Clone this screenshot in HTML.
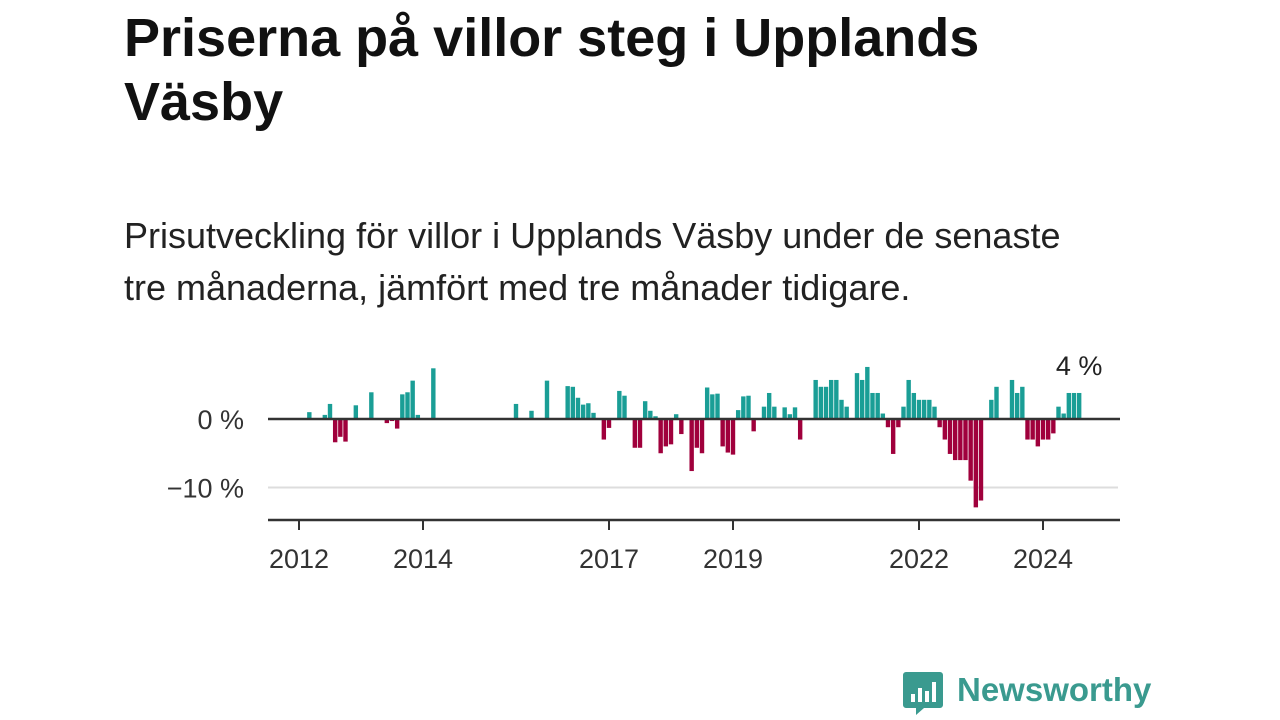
<!DOCTYPE html>
<html><head><meta charset="utf-8"><style>
body{margin:0;width:1280px;height:720px;background:#fff;overflow:hidden;font-family:"Liberation Sans",sans-serif;position:relative}
#title{position:absolute;left:124px;top:6px;font-size:54px;font-weight:bold;color:#111;line-height:64px;margin:0;width:930px}
#sub{position:absolute;left:124px;top:210px;font-size:36px;color:#222;line-height:52px;width:960px}
svg{position:absolute;left:0;top:0}
#logo{position:absolute;left:902px;top:670px;height:46px}
</style></head><body>
<h1 id="title">Priserna på villor steg i Upplands Väsby</h1>
<div id="sub">Prisutveckling för villor i Upplands Väsby under de senaste tre månaderna, jämfört med tre månader tidigare.</div>
<svg id="chart" width="1280" height="720"></svg>
<div id="logo">
<svg width="42" height="46" style="left:0;top:0"><path d="M4 2h34a3 3 0 0 1 3 3v30a3 3 0 0 1-3 3H22l-8 7v-7H4a3 3 0 0 1-3-3V5a3 3 0 0 1 3-3z" fill="#3a9a8f"/><rect x="9" y="24" width="4" height="8" fill="#fff"/><rect x="16" y="18" width="4" height="14" fill="#fff"/><rect x="23" y="21" width="4" height="11" fill="#fff"/><rect x="30" y="12" width="4" height="20" fill="#fff"/></svg>
<span style="position:absolute;left:55px;top:1px;font-size:33px;font-weight:bold;color:#3a9a8f;white-space:nowrap">Newsworthy</span>
</div>
<script>
const months=[2,5,6,7,8,9,11,14,17,18,19,20,21,22,23,26,42,45,48,52,53,54,55,56,57,59,60,62,63,65,66,67,68,69,70,71,72,73,74,76,77,78,79,80,81,82,83,84,85,86,87,88,90,91,92,94,95,96,97,100,101,102,103,104,105,106,108,109,110,111,112,113,114,115,116,117,118,119,120,121,122,123,124,125,126,127,128,129,130,131,132,134,135,138,139,140,141,142,143,144,145,146,147,148,149,150,151];
const values=[1,0.6,2.2,-3.4,-2.6,-3.3,2,3.9,-0.6,-0.3,-1.4,3.6,3.9,5.6,0.6,7.4,2.2,1.2,5.6,4.8,4.7,3.1,2.1,2.3,0.9,-3,-1.3,4.1,3.4,-4.2,-4.2,2.6,1.2,0.4,-5,-4,-3.7,0.7,-2.2,-7.6,-4.2,-5,4.6,3.6,3.7,-4,-4.9,-5.2,1.3,3.3,3.4,-1.8,1.8,3.8,1.8,1.7,0.7,1.7,-3,5.7,4.7,4.7,5.7,5.7,2.8,1.8,6.7,5.7,7.6,3.8,3.8,0.8,-1.2,-5.1,-1.2,1.8,5.7,3.8,2.8,2.8,2.8,1.8,-1.2,-3,-5.1,-6,-6,-6,-9,-12.9,-11.9,2.8,4.7,5.7,3.8,4.7,-3,-3,-4,-3,-3,-2.1,1.8,0.8,3.8,3.8,3.8];
const yTicks=[0,-10];
const yTickLabels=["0 %","−10 %"];
const xTickYears=[2012,2014,2017,2019,2022,2024];
const lastLabel="4 %";
const NS="http://www.w3.org/2000/svg";
const svg=document.getElementById('chart');
const x=m=>299+m*(62/12);
const y=v=>419-v*6.85;
function el(t,a){const e=document.createElementNS(NS,t);for(const k in a)e.setAttribute(k,a[k]);svg.appendChild(e);return e;}
yTicks.forEach((t,i)=>{
  if(t!==0){const g=el('line',{x1:268,x2:1118,y1:y(t),y2:y(t),stroke:'#ddd','stroke-width':2});
  
  }
  const l=el('text',{x:244,y:y(t)+10,'text-anchor':'end','font-size':27,fill:'#333','font-family':'Liberation Sans, sans-serif'});
  l.textContent=yTickLabels[i];
  
  
});
months.forEach((m,i)=>{
  const v=values[i];
  const r=el('rect',{x:x(m)-2.2,width:4.4,y:Math.min(y(v),y(0)),height:Math.abs(y(v)-y(0)),fill:v>=0?'#1a9e96':'#a0003c'});
  
  
});
const z=el('line',{x1:268,x2:1120,y1:y(0),y2:y(0),stroke:'#333','stroke-width':2.5});


const ax=el('line',{x1:268,x2:1120,y1:520,y2:520,stroke:'#333','stroke-width':2.5});


xTickYears.forEach(yr=>{
  const xx=x((yr-2012)*12);
  const tk=el('line',{x1:xx,x2:xx,y1:520,y2:530,stroke:'#333','stroke-width':2});
  
  
  const t=el('text',{x:xx,y:568,'text-anchor':'middle','font-size':27,fill:'#333','font-family':'Liberation Sans, sans-serif'});
  t.textContent=yr;
  
  
});
const lm=months[months.length-1];
const lab=el('text',{x:x(lm),y:y(values[values.length-1])-18,'text-anchor':'middle','font-size':27,fill:'#222','font-family':'Liberation Sans, sans-serif'});
lab.textContent=lastLabel;


</script>
</body></html>
